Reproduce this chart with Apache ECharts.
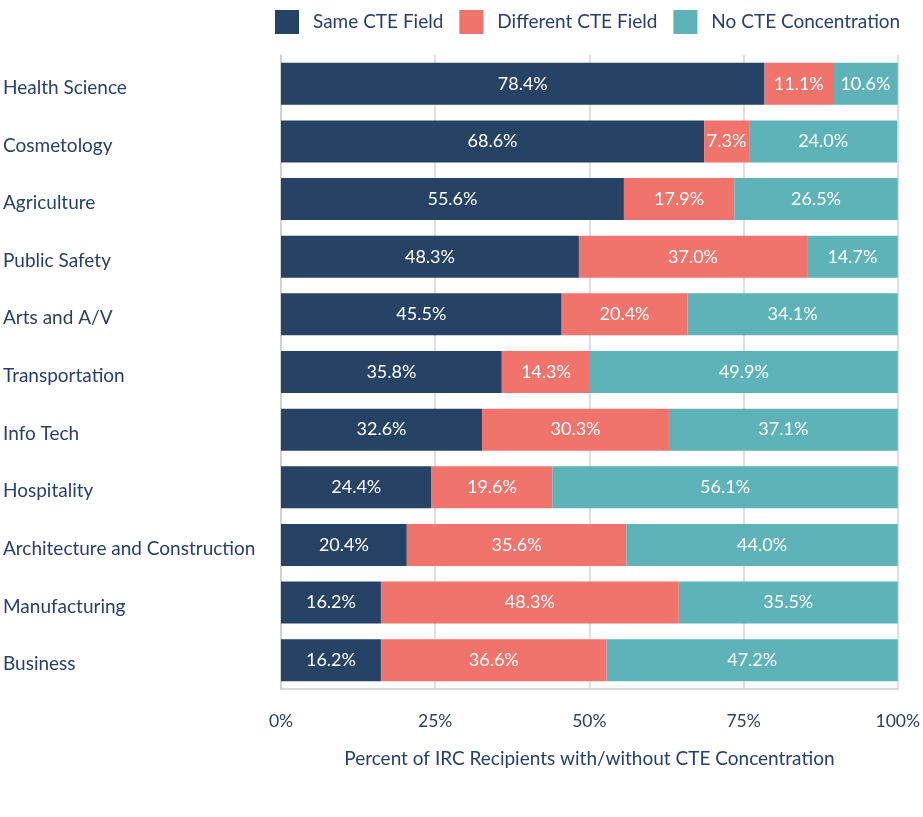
<!DOCTYPE html>
<html><head><meta charset="utf-8">
<script src="https://cdn.jsdelivr.net/npm/echarts@6/dist/echarts.min.js"></script>
<style>html,body{margin:0;padding:0;background:#fff}#c{width:923px;height:817px}</style>
</head><body><div id="c"></div>
<script>
const categories = ["Health Science","Cosmetology","Agriculture","Public Safety","Arts and A/V","Transportation","Info Tech","Hospitality","Architecture and Construction","Manufacturing","Business"];
const sameField = [78.4,68.6,55.6,48.3,45.5,35.8,32.6,24.4,20.4,16.2,16.2];
const diffField = [11.1,7.3,17.9,37.0,20.4,14.3,30.3,19.6,35.6,48.3,36.6];
const noConc = [10.6,24.0,26.5,14.7,34.1,49.9,37.1,56.1,44.0,35.5,47.2];
const xTicks = [0,25,50,75,100];
const seriesNames = ["Same CTE Field","Different CTE Field","No CTE Concentration"];
const colors = ["#264265","#f0746c","#5db3b8"];
const font = "Lato, 'Noto Sans', sans-serif";
const textColor = "#27406a";

const chart = echarts.init(document.getElementById('c'));
const mk = (name, data, color) => ({
  name, type: 'bar', stack: 'total', data, barWidth: 42,
  itemStyle: { color },
  label: { show: true, position: 'inside', color: '#fff', fontSize: 18, fontFamily: font,
    formatter: p => p.value.toFixed(1) + '%' }
});
chart.setOption({
  animation: false,
  textStyle: { fontFamily: font },
  legend: {
    top: 5, left: 270, itemWidth: 24, itemHeight: 24, itemGap: 16,
    icon: 'rect',
    textStyle: { fontSize: 19, color: textColor, fontFamily: font, padding: [0,0,0,9] },
    data: seriesNames
  },
  grid: { left: 277, right: 23, top: 55, height: 634 },
  xAxis: {
    type: 'value', min: 0, max: 100, interval: 25,
    axisLine: { show: true, lineStyle: { color: '#cccccc', width: 1.5 } },
    axisTick: { show: false },
    splitLine: { show: true, lineStyle: { color: '#d4d4d4', width: 1.5 } },
    axisLabel: { margin: 23, fontSize: 17.5, color: textColor, fontFamily: font,
      formatter: v => xTicks.includes(v) ? v + '%' : '' },
    name: 'Percent of IRC Recipients with/without CTE Concentration',
    nameLocation: 'middle', nameGap: 60,
    nameTextStyle: { fontSize: 19, color: textColor, fontFamily: font }
  },
  yAxis: {
    type: 'category', data: categories, inverse: true,
    axisLine: { show: true, lineStyle: { color: '#cccccc', width: 1.5 } },
    axisTick: { show: false },
    axisLabel: { align: 'left', margin: 278, fontSize: 19, color: textColor, fontFamily: font,
      verticalAlign: 'top', lineHeight: 8 }
  },
  series: [mk(seriesNames[0], sameField, colors[0]), mk(seriesNames[1], diffField, colors[1]), mk(seriesNames[2], noConc, colors[2])]
});
</script></body></html>
